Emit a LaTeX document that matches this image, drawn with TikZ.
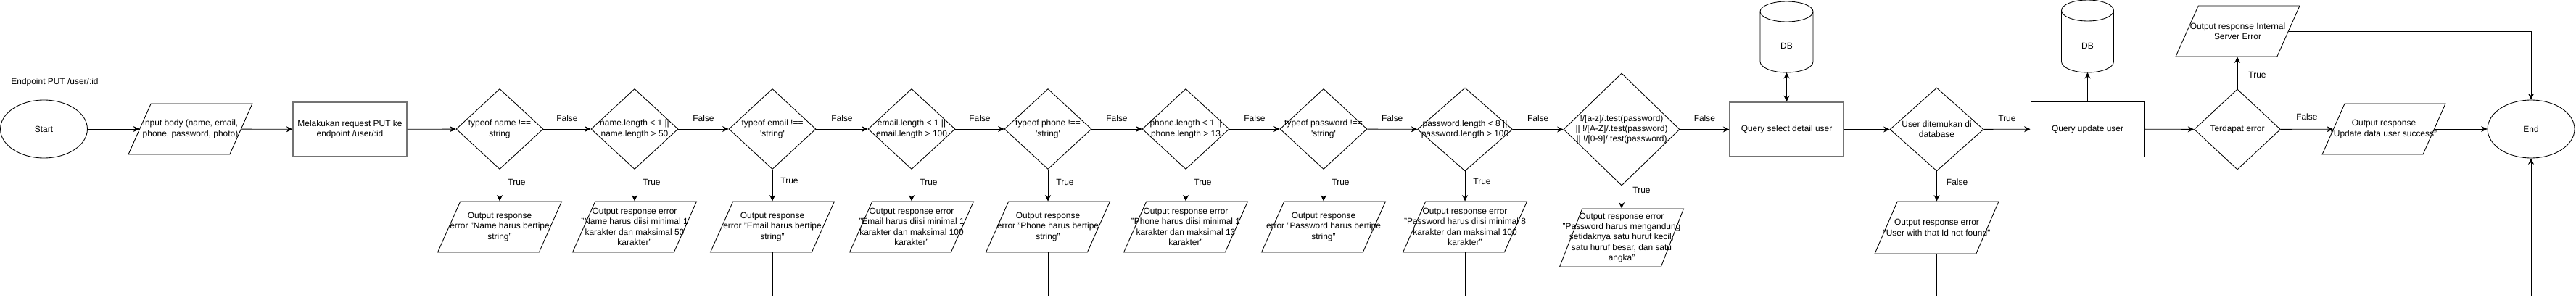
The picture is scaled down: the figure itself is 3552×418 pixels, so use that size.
\documentclass[tikz,border=0pt]{standalone}
\usepackage{fontspec}
\setmainfont{Liberation Sans}
\usetikzlibrary{shapes.geometric,arrows.meta}
\newcommand{\tq}{\textquotesingle}

\begin{document}
\begin{tikzpicture}[x=0.02cm,y=-0.02cm,line width=0.5pt,
  font=\fontsize{6.8pt}{8.2pt}\selectfont,
  arr/.style={-{Stealth[length=0.17cm,width=0.16cm]}},
  term/.style={draw,ellipse,minimum width=2.4cm,minimum height=1.6cm,inner sep=0pt},
  proc/.style={draw,rectangle,minimum width=3.14cm,minimum height=1.5cm,align=center,inner sep=0pt},
  dec/.style={draw,diamond,minimum width=2.4cm,minimum height=2.22cm,inner sep=2pt},
  io/.style={draw,trapezium,trapezium left angle=74,trapezium right angle=106,trapezium stretches=true,minimum width=3.42cm,minimum height=1.4cm,inner sep=2pt},
  txt/.style={align=center,inner sep=0pt},
  lbl/.style={inner sep=0pt},
  db/.style={minimum width=1.46cm,minimum height=1.96cm,inner sep=0pt,outer sep=0pt}]
\useasboundingbox (0,0) rectangle (3552,418);

% start, input, request
\node[anchor=west,inner sep=0pt] (title) at (15,113) {Endpoint PUT /user/:id};
\node[term] (start) at (60.5,178) {Start};
\node[io,label={[txt]center:{Input body (name, email,\\phone, password, photo)}}] (input) at (262.5,178) {};
\node[proc,draw=black!55,line width=0.8pt] (req) at (482.5,178.5) {Melakukan request PUT ke\\endpoint /user/:id};

% validation
\node[dec,label={[txt]center:{typeof name !==\\string}}] (d1) at (689,178) {};
\node[dec,label={[txt]center:{name.length < 1 ||\\name.length > 50}}] (d2) at (875,178) {};
\node[dec,label={[txt]center:{typeof email !==\\\tq string\tq}}] (d3) at (1065,178) {};
\node[dec,label={[txt]center:{email.length < 1 ||\\email.length > 100}}] (d4) at (1257,178) {};
\node[dec,label={[txt]center:{typeof phone !==\\\tq string\tq}}] (d5) at (1445,178) {};
\node[dec,label={[txt]center:{phone.length < 1 ||\\phone.length > 13}}] (d6) at (1635,178) {};
\node[dec,label={[txt]center:{typeof password !==\\\tq string\tq}}] (d7) at (1825,178) {};
\node[dec,minimum width=2.62cm,minimum height=2.3cm,label={[txt]center:{password.length < 8 ||\\password.length > 100}}] (d8) at (2020,178.5) {};
\node[dec,minimum width=3.2cm,minimum height=3.1cm,label={[txt]center:{!/[a-z]/.test(password)\\|| !/[A-Z]/.test(password)\\|| !/[0-9]/.test(password)}}] (d9) at (2236,178.5) {};

% error outputs
\node[io,label={[txt]center:{Output response\\error "Name harus bertipe\\string"}}] (o1) at (689,313) {};
\node[io,label={[txt]center:{Output response error\\"Name harus diisi minimal 1\\karakter dan maksimal 50\\karakter"}}] (o2) at (875,313) {};
\node[io,label={[txt]center:{Output response\\error "Email harus bertipe\\string"}}] (o3) at (1065,313) {};
\node[io,label={[txt]center:{Output response error\\"Email harus diisi minimal 1\\karakter dan maksimal 100\\karakter"}}] (o4) at (1257,313) {};
\node[io,label={[txt]center:{Output response\\error "Phone harus bertipe\\string"}}] (o5) at (1445,313) {};
\node[io,label={[txt]center:{Output response error\\"Phone harus diisi minimal 1\\karakter dan maksimal 13\\karakter"}}] (o6) at (1635,313) {};
\node[io,label={[txt]center:{Output response\\error "Password harus bertipe\\string"}}] (o7) at (1825,313) {};
\node[io,label={[txt]center:{Output response error\\"Password harus diisi minimal 8\\karakter dan maksimal 100\\karakter"}}] (o8) at (2020,313) {};
\node[io,minimum height=1.6cm,label={[txt]center:{Output response error\\"Password harus mengandung\\setidaknya satu huruf kecil,\\satu huruf besar, dan satu\\angka"}}] (o9) at (2236,328) {};

% database part
\node[proc,draw=black!55,line width=0.8pt] (qsel) at (2463.5,178.5) {Query select detail user};
\node[db,label={[yshift=-0.24cm]center:DB}] (db1) at (2463.5,51) {};
\node[dec,minimum width=2.58cm,minimum height=2.3cm,label={[txt]center:{User ditemukan di\\database}}] (d10) at (2670.5,178.5) {};
\node[io,minimum height=1.44cm,label={[txt]center:{Output response error\\"User with that Id not found"}}] (o10) at (2670.5,314) {};
\node[proc,minimum height=1.52cm] (qupd) at (2878.5,178) {Query update user};
\node[db,minimum width=1.44cm,minimum height=2cm,label={[yshift=-0.26cm]center:DB}] (db2) at (2878.5,50) {};
\node[dec,minimum width=2.38cm,label={[txt]center:{Terdapat error}}] (d11) at (3085,178.5) {};
\node[io,label={[txt]center:{Output response Internal\\Server Error}}] (ise) at (3085.5,43) {};
\node[io,minimum width=3.4cm,label={[txt]center:{Output response\\"Update data user success"}}] (ok) at (3287,178) {};
\node[term] (end) at (3490,178) {End};

% cylinders
\draw ([yshift=-0.28cm]db1.north west) -- ([yshift=0.3cm]db1.south west) arc[start angle=180,end angle=360,x radius=0.73cm,y radius=0.3cm] -- ([yshift=-0.28cm]db1.north east);
\draw ([yshift=-0.28cm]db1.north) ellipse[x radius=0.73cm,y radius=0.28cm];
\draw ([yshift=-0.29cm]db2.north west) -- ([yshift=0.3cm]db2.south west) arc[start angle=180,end angle=360,x radius=0.72cm,y radius=0.3cm] -- ([yshift=-0.29cm]db2.north east);
\draw ([yshift=-0.29cm]db2.north) ellipse[x radius=0.72cm,y radius=0.29cm];

% main flow
\draw[arr] (start) -- (input);
\draw[arr] (input) -- (req);
\draw[arr] (req) -- (d1);
\draw[arr] (d1) -- node[lbl,above=0.2cm]{False} (d2);
\draw[arr] (d2) -- node[lbl,above=0.2cm]{False} (d3);
\draw[arr] (d3) -- node[lbl,above=0.2cm]{False} (d4);
\draw[arr] (d4) -- node[lbl,above=0.2cm]{False} (d5);
\draw[arr] (d5) -- node[lbl,above=0.2cm]{False} (d6);
\draw[arr] (d6) -- node[lbl,above=0.2cm]{False} (d7);
\draw[arr] (d7) -- node[lbl,above=0.2cm]{False} (d8);
\draw[arr] (d8) -- node[lbl,above=0.2cm]{False} (d9);
\draw[arr] (d9) -- node[lbl,above=0.2cm]{False} (qsel);
\draw[arr] (qsel) -- (d10);
\draw[arr] (d10) -- node[lbl,above=0.2cm]{True} (qupd);
\draw[arr] (qupd) -- (d11);
\draw[arr] (d11) -- node[lbl,above=0.25cm]{False} (ok);
\draw[arr] (ok) -- (end);
\draw[{Stealth[length=0.17cm,width=0.16cm]}-{Stealth[length=0.17cm,width=0.16cm]}] (qsel.north) -- (db1.south);
\draw[arr] (qupd.north) -- (db2.south);

% true branches
\draw[arr] (d1.south) -- node[lbl,right=0.22cm,pos=0.4]{True} (d1.south |- o1.north);
\draw[arr] (d2.south) -- node[lbl,right=0.22cm,pos=0.4]{True} (d2.south |- o2.north);
\draw[arr] (d3.south) -- node[lbl,right=0.22cm,pos=0.35]{True} (d3.south |- o3.north);
\draw[arr] (d4.south) -- node[lbl,right=0.22cm,pos=0.4]{True} (d4.south |- o4.north);
\draw[arr] (d5.south) -- node[lbl,right=0.22cm,pos=0.4]{True} (d5.south |- o5.north);
\draw[arr] (d6.south) -- node[lbl,right=0.22cm,pos=0.4]{True} (d6.south |- o6.north);
\draw[arr] (d7.south) -- node[lbl,right=0.22cm,pos=0.4]{True} (d7.south |- o7.north);
\draw[arr] (d8.south) -- node[lbl,right=0.22cm,pos=0.35]{True} (d8.south |- o8.north);
\draw[arr] (d9.south) -- node[lbl,right=0.3cm,pos=0.2]{True} (d9.south |- o9.north);
\draw[arr] (d10.south) -- node[lbl,right=0.26cm,pos=0.36]{False} (d10.south |- o10.north);
\draw[arr] (d11.north) -- node[lbl,right=0.3cm,pos=0.44]{True} (d11.north |- ise.south);
\draw[arr] (ise.east) -| (end.north);

% to end
\coordinate (bus) at (3490,408);
\draw[arr] (o1.center |- o1.south) |- (bus) -- (end.south);
\draw (o2.center |- o2.south) -- (o2.center |- bus);
\draw (o3.center |- o3.south) -- (o3.center |- bus);
\draw (o4.center |- o4.south) -- (o4.center |- bus);
\draw (o5.center |- o5.south) -- (o5.center |- bus);
\draw (o6.center |- o6.south) -- (o6.center |- bus);
\draw (o7.center |- o7.south) -- (o7.center |- bus);
\draw (o8.center |- o8.south) -- (o8.center |- bus);
\draw (o9.center |- o9.south) -- (o9.center |- bus);
\draw (o10.center |- o10.south) -- (o10.center |- bus);
\end{tikzpicture}
\end{document}
